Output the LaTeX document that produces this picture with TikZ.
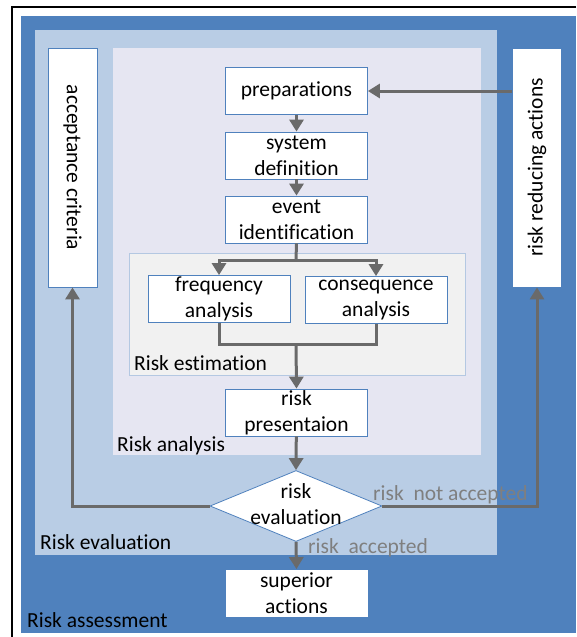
\documentclass[tikz,border=0pt]{standalone}
\usepackage{fontspec}
\setmainfont{Carlito}[RawFeature={-liga;-clig;-dlig}]
\usepackage{graphicx}
\usetikzlibrary{arrows.meta,shapes.geometric}
\definecolor{darkblue}{HTML}{4F81BD}
\definecolor{lightblue}{HTML}{B9CDE5}
\definecolor{lavender}{HTML}{E6E6F2}
\definecolor{estgrey}{HTML}{F1F1F1}
\definecolor{estborder}{HTML}{B4C8E2}
\definecolor{arrgrey}{HTML}{6A6A6A}
\definecolor{lblgrey}{HTML}{7F7F7F}
\tikzset{
  box/.style={draw=darkblue, line width=0.8pt, fill=white, inner sep=0pt, align=center,
    font=\fontsize{21.5}{26}\selectfont},
  hbox/.style={box, minimum width=142pt, minimum height=47pt},
  vbox/.style={box, minimum width=49pt, minimum height=239pt},
  region/.style={anchor=base west, inner sep=0pt, font=\fontsize{21.5}{26}\selectfont},
  conlabel/.style={anchor=base west, inner sep=0pt, text=lblgrey, font=\fontsize{21.5}{26}\selectfont},
  conn/.style={draw=arrgrey, line width=3pt},
  arr/.style={conn, -{Triangle[width=14pt,length=12pt]}},
}
\begin{document}
\begin{tikzpicture}[x=1pt,y=-1pt]
\useasboundingbox (0,0) rectangle (576,637);
\fill[white] (0,0) rectangle (576,637);
% frame
\draw[black, line width=1.3pt] (576,7) -- (12,7) -- (12,637);
% regions
\fill[darkblue] (21,16) rectangle (576,633);
\fill[lightblue] (35,30) rectangle (497,555);
\fill[lavender] (113,48) rectangle (481,455);
\filldraw[fill=estgrey, draw=estborder, line width=0.8pt] (129,253) rectangle (465,375);
% region labels
\node[region] (lest) at (134,370) {Risk estimation};
\node[region] (lana) at (117,451) {Risk analysis};
\node[region] (leva) at (40,549) {Risk evaluation};
\node[region] (lass) at (27,627) {Risk assessment};
% boxes
\node[vbox] (acc) at (72.5,167.5) {\rotatebox{-90}{acceptance criteria}};
\node[vbox] (rra) at (537,167.5) {\rotatebox{90}{risk reducing actions}};
\node[hbox] (prep) at (296.5,91) {preparations};
\node[hbox] (sys) at (296.5,155.5) {system\\definition};
\node[hbox] (evt) at (296.5,219.5) {event\\identification};
\node[hbox] (freq) at (219,299) {frequency\\analysis};
\node[hbox] (cons) at (376,300) {consequence\\analysis};
\node[hbox] (pres) at (296.5,412.5) {risk\\presentaion};
\node[diamond, draw=darkblue, line width=0.8pt, fill=white, inner sep=0pt,
  minimum width=172pt, minimum height=71pt] (eval) at (296,506) {};
\node[inner sep=0pt, align=center, font=\fontsize{21.5}{26}\selectfont] (evaltext) at (296,504) {risk\\evaluation};
\node[hbox, draw=none] (sup) at (296.5,593) {superior\\actions};
% connectors
\coordinate (split) at (296,260);
\coordinate (join) at (296,344);
\draw[arr] (prep.east -| rra.west) -- (prep.east);
\draw[arr] (prep) -- (sys);
\draw[arr] (sys) -- (evt);
\draw[conn] (evt.south) -- (split);
\draw[arr] (split) -| (freq.north);
\draw[arr] (split) -| (cons.north);
\draw[conn] (freq.south) |- (join);
\draw[conn] (cons.south) |- (join);
\draw[arr] (join) -- (pres.north);
\draw[arr] (pres) -- (eval.north);
\draw[arr] (eval.west) -| (acc.south);
\draw[arr] (eval.east) -| (rra.south);
\draw[arr] (eval.south) -- (sup.north);
% connector labels
\node[conlabel] (nacc) at (373,500) {risk\ \ not accepted};
\node[conlabel] (yacc) at (308,553) {risk\ \ accepted};
\end{tikzpicture}
\end{document}
